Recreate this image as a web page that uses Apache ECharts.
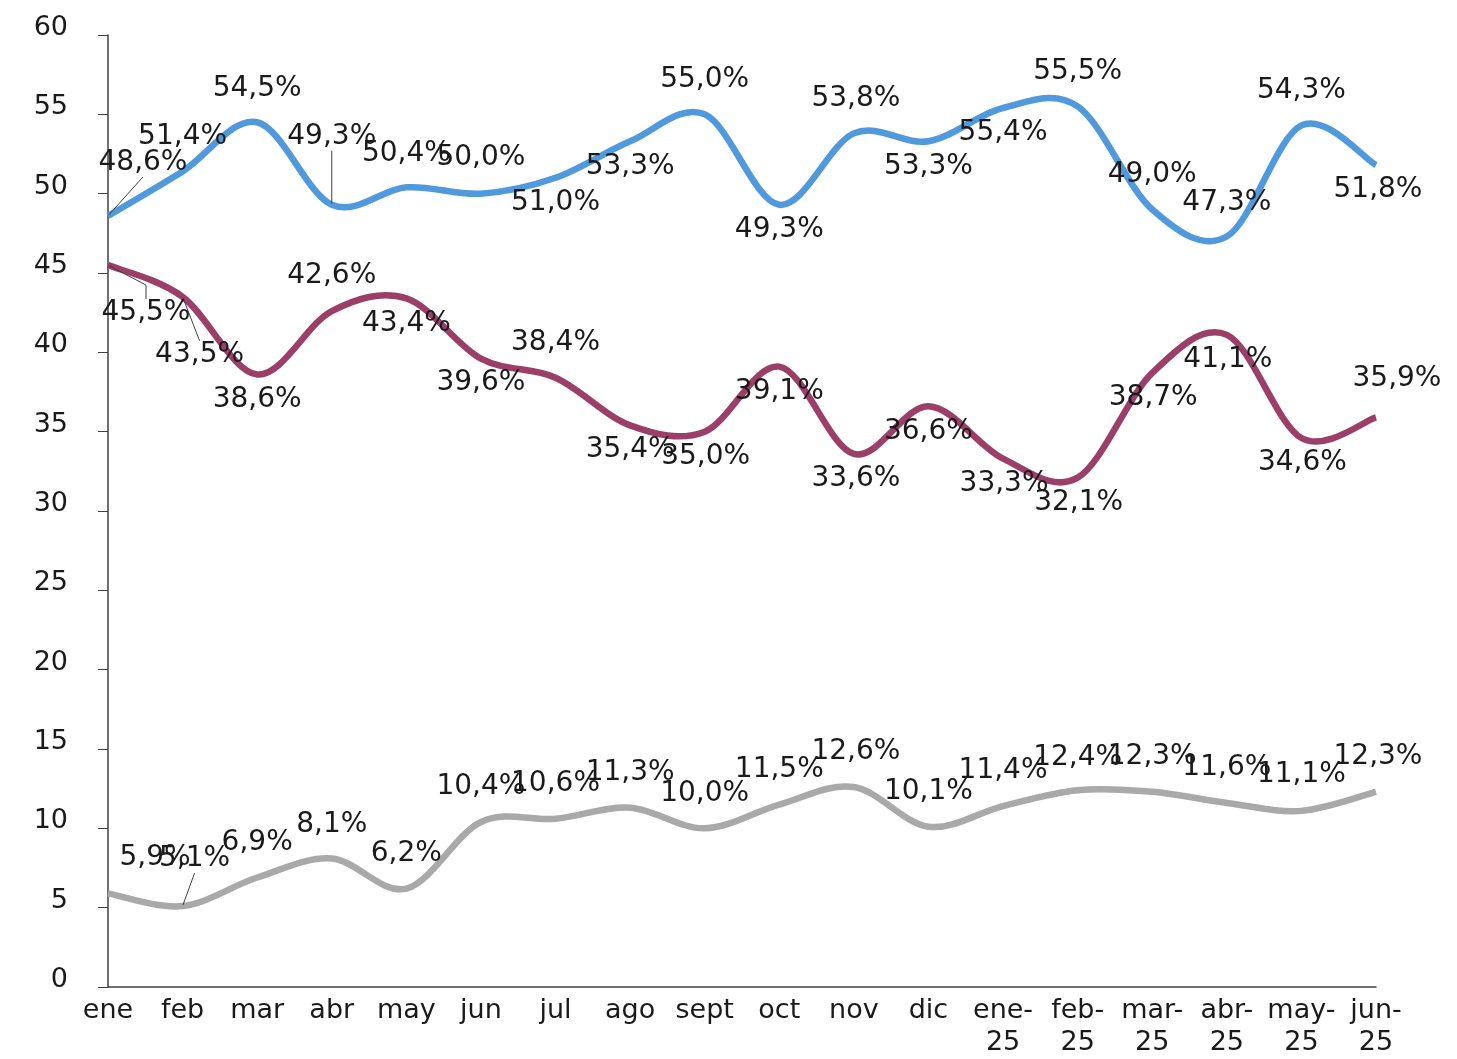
<!DOCTYPE html>
<html>
<head>
<meta charset="utf-8">
<script src="https://cdn.jsdelivr.net/npm/echarts@6/dist/echarts.min.js"></script>
<style>
  html, body { margin: 0; padding: 0; background: #fff; }
  #main { width: 1457px; height: 1059px; }
</style>
</head>
<body>
<div id="main"></div>
<script>
var meses = ['ene', 'feb', 'mar', 'abr', 'may', 'jun', 'jul', 'ago', 'sept', 'oct', 'nov', 'dic',
  'ene-25', 'feb-25', 'mar-25', 'abr-25', 'may-25', 'jun-25'];

var serieAzul = [48.6, 51.4, 54.5, 49.3, 50.4, 50.0, 51.0, 53.3, 55.0, 49.3, 53.8, 53.3, 55.4, 55.5, 49.0, 47.3, 54.3, 51.8];
var serieGranate = [45.5, 43.5, 38.6, 42.6, 43.4, 39.6, 38.4, 35.4, 35.0, 39.1, 33.6, 36.6, 33.3, 32.1, 38.7, 41.1, 34.6, 35.9];
var serieGris = [5.9, 5.1, 6.9, 8.1, 6.2, 10.4, 10.6, 11.3, 10.0, 11.5, 12.6, 10.1, 11.4, 12.4, 12.3, 11.6, 11.1, 12.3];

var yTicks = { min: 0, max: 60, interval: 5 };

// desplazamiento de cada etiqueta respecto a su punto (px)
var offAzul = [[35,-53],[0,-35],[0,-34],[0,-68],[0,-34],[0,-36],[0,25],[0,25],[0,-35],[0,25],[2,-35],[0,25],[0,25],[0,-35],[0,-35],[0,-34],[0,-35],[2,25]];
var offGranate = [[38,48],[17,58],[0,25],[0,-35],[0,25],[0,24],[0,-35],[0,24],[1,25],[0,25],[2,25],[0,25],[1,25],[1,25],[1,25],[1,25],[1,25],[21,-39]];
var offGris = [[47,-36],[12,-47],[0,-35],[0,-34],[0,-35],[0,-35],[0,-35],[0,-35],[0,-35],[0,-35],[2,-35],[0,-35],[0,-35],[0,-33],[0,-35],[0,-35],[0,-36],[2,-35]];

// puntos con línea guía: [índice, tramo final]
var guiaAzul = [[0, 0], [3, 0]];
var guiaGranate = [[0, 14], [1, 0]];
var guiaGris = [[1, 0]];

var offsets = [offAzul, offGranate, offGris];
var fuente = '"DejaVu Sans", sans-serif';

// curva suavizada al estilo Excel (Catmull-Rom) sobre los puntos de la serie
function curva(valores, color) {
  return {
    type: 'custom',
    data: valores.map(function (v, i) { return [i, v]; }),
    encode: { x: 0, y: 1 },
    silent: true,
    z: 1,
    renderItem: function (params, api) {
      if (params.dataIndexInside !== 0) return;
      var n = params.dataInsideLength;
      var p = [];
      for (var i = 0; i < n; i++) {
        p.push(api.coord([api.value(0, i), api.value(1, i)]));
      }
      var d = 'M' + p[0][0] + ' ' + p[0][1];
      for (var k = 0; k < n - 1; k++) {
        var a = p[Math.max(k - 1, 0)], b = p[k], c = p[k + 1], e = p[Math.min(k + 2, n - 1)];
        var c1x = b[0] + (c[0] - a[0]) / 6, c1y = b[1] + (c[1] - a[1]) / 6;
        var c2x = c[0] - (e[0] - b[0]) / 6, c2y = c[1] - (e[1] - b[1]) / 6;
        d += ' C' + c1x + ' ' + c1y + ' ' + c2x + ' ' + c2y + ' ' + c[0] + ' ' + c[1];
      }
      return {
        type: 'path',
        shape: { pathData: d },
        style: { fill: null, stroke: color, lineWidth: 6.5, lineJoin: 'round', lineCap: 'butt' }
      };
    }
  };
}

function itemsDe(valores, guias) {
  return valores.map(function (v, i) {
    var it = { value: v };
    guias.forEach(function (g) {
      if (g[0] === i) {
        it.labelLine = { show: true, length2: g[1], lineStyle: { color: '#404040', width: 1 } };
      }
    });
    return it;
  });
}

// serie de etiquetas (la línea la dibuja la curva)
function etiquetas(nombre, valores, guias, s) {
  return {
    name: nombre,
    type: 'line',
    data: itemsDe(valores, guias),
    symbol: 'circle',
    symbolSize: 2,
    showSymbol: true,
    z: 3,
    itemStyle: { color: 'rgba(0,0,0,0)', borderWidth: 0 },
    lineStyle: { width: 0, opacity: 0 },
    label: {
      show: true,
      position: 'inside',
      color: '#1a1a1a',
      fontFamily: fuente,
      fontSize: 28,
      formatter: function (p) { return p.value.toFixed(1).replace('.', ',') + '%'; }
    },
    labelLine: { show: false },
    labelLayout: function (p) {
      var o = offsets[s][p.dataIndex];
      return { dx: o[0], dy: o[1] };
    },
    emphasis: { disabled: true }
  };
}

var myChart = echarts.init(document.getElementById('main'));

var option = {
  backgroundColor: '#fff',
  animation: false,
  grid: { left: 108, right: 81, top: 35, bottom: 71, containLabel: false },
  xAxis: {
    type: 'category',
    data: meses,
    boundaryGap: false,
    axisLine: { lineStyle: { color: '#404040', width: 1.5 } },
    axisTick: { show: false },
    axisLabel: {
      interval: 0,
      margin: 8,
      color: '#1a1a1a',
      fontFamily: fuente,
      fontSize: 27,
      lineHeight: 32,
      formatter: function (v) { return v.replace('-', '-\n'); }
    },
    splitLine: { show: false }
  },
  yAxis: {
    type: 'value',
    min: yTicks.min,
    max: yTicks.max,
    interval: yTicks.interval,
    axisLine: { show: true, lineStyle: { color: '#404040', width: 1.5 } },
    axisTick: { show: true, length: 10, lineStyle: { color: '#404040' } },
    axisLabel: {
      margin: 40,
      color: '#1a1a1a',
      fontFamily: fuente,
      fontSize: 27,
      verticalAlign: 'bottom',
      lineHeight: 14
    },
    splitLine: { show: false }
  },
  series: [
    curva(serieAzul, '#5199dd'),
    curva(serieGranate, '#9b3f69'),
    curva(serieGris, '#a9a9a9'),
    etiquetas('azul', serieAzul, guiaAzul, 0),
    etiquetas('granate', serieGranate, guiaGranate, 1),
    etiquetas('gris', serieGris, guiaGris, 2)
  ]
};

myChart.setOption(option);
</script>
</body>
</html>
